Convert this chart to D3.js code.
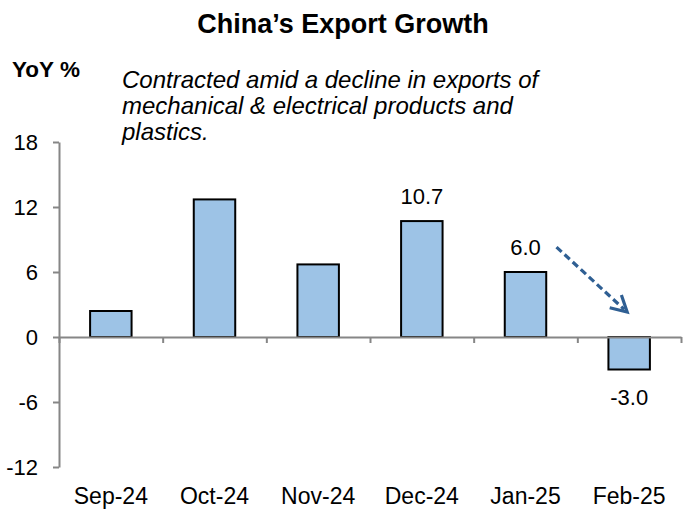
<!DOCTYPE html>
<html>
<head>
<meta charset="utf-8">
<script src="https://cdn.jsdelivr.net/npm/d3@7"></script>
<style>
  body { margin: 0; background: #fff; }
  text { font-family: "Liberation Sans", Arial, sans-serif; }
</style>
</head>
<body>
<script>
"use strict";
(function(){
    // chart values
    const months = ["Sep-24", "Oct-24", "Nov-24", "Dec-24", "Jan-25", "Feb-25"]
    const growth = [2.4, 12.7, 6.7, 10.7, 6.0, -3.0]
    const showLabel = [false, false, false, true, true, true]
    const yTicks = [-12, -6, 0, 6, 12, 18]
    const subtitle = [
        "Contracted amid a decline in exports of",
        "mechanical & electrical products and",
        "plastics."
    ]

    const measurements = {
        width: 687,
        height: 509,
        left: 59,
        right: 681,
        top: 142,
        bottom: 467
    }

    const svg = d3.select("body").append("svg")
        .attr("width", measurements.width)
        .attr("height", measurements.height)

    // scales
    const scaleX = d3.scaleBand()
        .domain(months)
        .range([measurements.left, measurements.right])
        .paddingInner(0.6)
        .paddingOuter(0.3)
    const edges = d3.scaleLinear()
        .domain([0, months.length])
        .range([measurements.left, measurements.right])
    const scaleY = d3.scaleLinear()
        .domain([-12, 18])
        .range([measurements.bottom, measurements.top])

    // y axis (plain hyphen for negatives)
    const yAxis = svg.append("g")
        .attr("transform", `translate(${measurements.left},0)`)
        .call(d3.axisLeft(scaleY).tickValues(yTicks).tickFormat(d => String(d))
            .tickSize(6).tickSizeOuter(0).tickPadding(15))
    yAxis.select(".domain").attr("stroke", "#868686").attr("stroke-width", 2)
    yAxis.selectAll(".tick line").attr("stroke", "#868686").attr("stroke-width", 2)
    yAxis.selectAll(".tick text")
        .style("font-size", "22px")
        .attr("fill", "#000")

    // bars
    svg.selectAll(".bar")
        .data(growth)
        .enter()
        .append("rect")
            .attr("class", "bar")
            .attr("x", (d, i) => scaleX(months[i]))
            .attr("width", scaleX.bandwidth())
            .attr("y", d => scaleY(Math.max(d, 0)))
            .attr("height", d => Math.abs(scaleY(d) - scaleY(0)))
            .attr("fill", "#9DC3E6")
            .attr("stroke", "#000")
            .attr("stroke-width", 2)

    // x axis line with boundary ticks
    const xAxis = svg.append("g")
        .attr("transform", `translate(0,${scaleY(0)})`)
        .call(d3.axisBottom(edges).tickValues(d3.range(months.length + 1)).tickFormat("").tickSize(6).tickSizeOuter(0))
    xAxis.select(".domain").attr("stroke", "#868686").attr("stroke-width", 2)
    xAxis.selectAll(".tick line").attr("stroke", "#868686").attr("stroke-width", 2)

    // category labels at bottom
    const xLabels = svg.append("g")
        .attr("transform", `translate(0,${measurements.bottom})`)
        .call(d3.axisBottom(scaleX).tickSize(0).tickPadding(21))
    xLabels.select(".domain").remove()
    xLabels.selectAll(".tick text")
        .style("font-size", "23px")
        .attr("fill", "#000")

    // value labels
    svg.selectAll(".val")
        .data(growth.map((d, i) => ({ v: d, m: months[i], show: showLabel[i] })).filter(d => d.show))
        .enter()
        .append("text")
            .attr("class", "val")
            .attr("x", d => scaleX(d.m) + scaleX.bandwidth() / 2)
            .attr("y", d => d.v >= 0 ? scaleY(d.v) - 17 : scaleY(d.v) + 35)
            .attr("text-anchor", "middle")
            .style("font-size", "22px")
            .text(d => d.v.toFixed(1))

    // dashed arrow from Jan to Feb
    const bw = scaleX.bandwidth()
    const x0 = scaleX("Jan-25") + bw / 2 + 31
    const y0 = scaleY(8.3)
    const x1 = scaleX("Feb-25") + bw / 2 - 2
    const y1 = scaleY(2.3)
    const ang = Math.atan2(y1 - y0, x1 - x0)
    svg.append("line")
        .attr("x1", x0).attr("y1", y0)
        .attr("x2", x1 - 4 * Math.cos(ang)).attr("y2", y1 - 4 * Math.sin(ang))
        .attr("stroke", "#2F5F93")
        .attr("stroke-width", 3.2)
        .attr("stroke-dasharray", "7,4")
    const head = 18
    const spread = 0.5
    svg.append("polyline")
        .attr("points", [
            [x1 - head * Math.cos(ang - spread), y1 - head * Math.sin(ang - spread)],
            [x1, y1],
            [x1 - head * Math.cos(ang + spread), y1 - head * Math.sin(ang + spread)]
        ].map(p => p.join(",")).join(" "))
        .attr("fill", "none")
        .attr("stroke", "#2F5F93")
        .attr("stroke-width", 3.2)

    // title, unit and note
    svg.append("text")
        .attr("x", 343)
        .attr("y", 33)
        .attr("text-anchor", "middle")
        .style("font-size", "27px")
        .style("font-weight", "bold")
        .text("China\u2019s Export Growth")
    svg.append("text")
        .attr("x", 12)
        .attr("y", 77)
        .style("font-size", "22.5px")
        .style("font-weight", "bold")
        .text("YoY %")
    svg.append("text")
        .attr("x", 122)
        .attr("y", 88)
        .style("font-size", "24px")
        .style("font-style", "italic")
        .selectAll("tspan")
        .data(subtitle)
        .enter()
        .append("tspan")
            .attr("x", 122)
            .attr("dy", (d, i) => i === 0 ? 0 : 26)
            .text(d => d)
})()
</script>
</body>
</html>
